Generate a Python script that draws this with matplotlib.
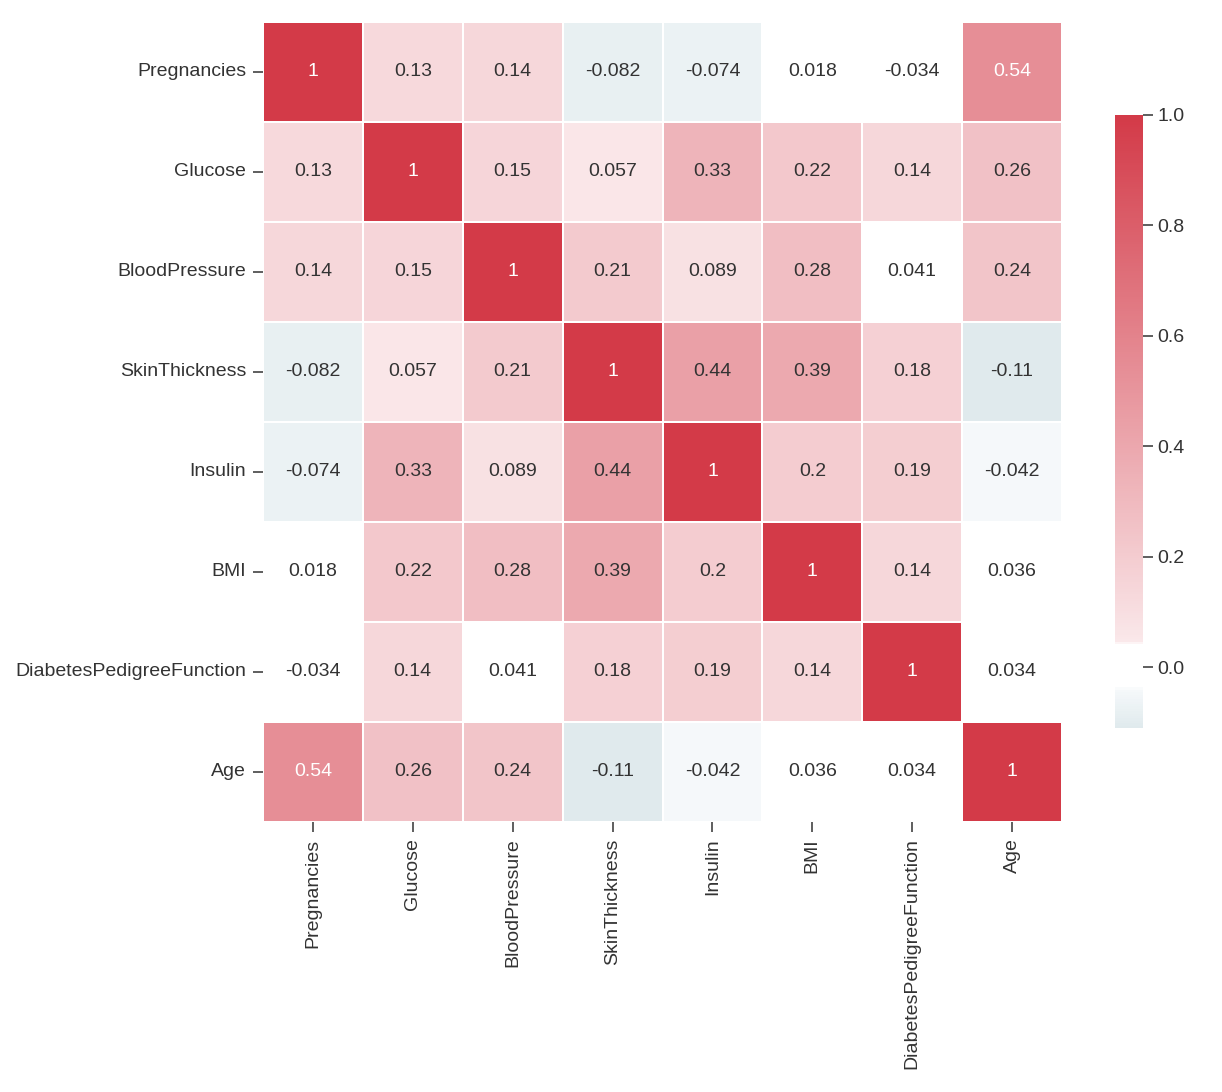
import numpy as np
import pandas as pd
import matplotlib
matplotlib.use("Agg")
import matplotlib.pyplot as plt
from matplotlib.colors import LinearSegmentedColormap
import seaborn as sns

COLS = ["Pregnancies", "Glucose", "BloodPressure", "SkinThickness",
        "Insulin", "BMI", "DiabetesPedigreeFunction", "Age"]

pregnancies = [1, 0.13, 0.14, -0.082, -0.074, 0.018, -0.034, 0.54]
glucose = [0.13, 1, 0.15, 0.057, 0.33, 0.22, 0.14, 0.26]
blood_pressure = [0.14, 0.15, 1, 0.21, 0.089, 0.28, 0.041, 0.24]
skin_thickness = [-0.082, 0.057, 0.21, 1, 0.44, 0.39, 0.18, -0.11]
insulin = [-0.074, 0.33, 0.089, 0.44, 1, 0.2, 0.19, -0.042]
bmi = [0.018, 0.22, 0.28, 0.39, 0.2, 1, 0.14, 0.036]
dpf = [-0.034, 0.14, 0.041, 0.18, 0.19, 0.14, 1, 0.034]
age = [0.54, 0.26, 0.24, -0.11, -0.042, 0.036, 0.034, 1]

corr = pd.DataFrame([pregnancies, glucose, blood_pressure, skin_thickness,
                     insulin, bmi, dpf, age], index=COLS, columns=COLS)

VMIN, VMAX = -0.11, 1.0

# diverging map: pale blue below zero, white band round zero, pink -> red above
anchors = [(-0.11, "#e0eaed"), (-0.041, "#f6f9fb"), (-0.039, "#ffffff"),
           (0.040, "#ffffff"), (0.045, "#fae8ea"), (1.0, "#d33a48")]
cmap = LinearSegmentedColormap.from_list(
    "corr", [((v - VMIN) / (VMAX - VMIN), c) for v, c in anchors])

sns.set_style("ticks")
plt.rcParams["font.family"] = ["Liberation Sans", "DejaVu Sans"]

fig = plt.figure(figsize=(12.22, 10.92), dpi=100)
ax = fig.add_axes([0.2152, 0.2473, 0.6539, 0.7326])
cax = fig.add_axes([0.9124, 0.3333, 0.0229, 0.5614])

sns.heatmap(corr, cmap=cmap, vmin=VMIN, vmax=VMAX, annot=True,
            annot_kws={"fontsize": 14, "color": "#333333"},
            linewidths=1.2, linecolor="white", ax=ax, cbar_ax=cax)

# white text on the dark cells
for t in ax.texts:
    if float(t.get_text()) > 0.5:
        t.set_color("white")

ax.tick_params(axis="both", labelsize=14, length=7, width=1.1, pad=5,
               color="#333333", labelcolor="#333333")
ax.set_xticklabels(COLS, rotation=90)
ax.set_yticklabels(COLS, rotation=0)
cax.tick_params(labelsize=14, length=7, width=1.1, color="#333333",
                labelcolor="#333333")
cax.set_yticks([0, 0.2, 0.4, 0.6, 0.8, 1.0])
cax.set_yticklabels(["0.0", "0.2", "0.4", "0.6", "0.8", "1.0"])

fig.savefig("out.png", dpi=100)
